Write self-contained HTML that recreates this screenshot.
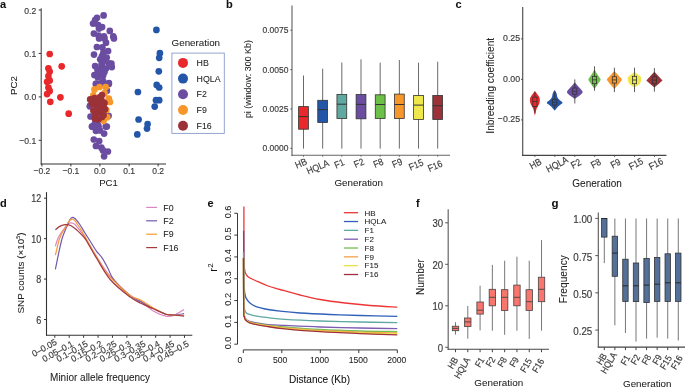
<!DOCTYPE html>
<html><head><meta charset="utf-8"><style>
html,body{margin:0;padding:0;background:#fff;overflow:hidden;}
svg{display:block;will-change:transform;}
text{font-family:"Liberation Sans", sans-serif;}
</style></head><body>
<svg width="685" height="387" viewBox="0 0 685 387">
<rect width="685" height="387" fill="#fff"/>
<text x="0.00" y="7.70" font-size="11" text-anchor="start" fill="#111" stroke="#111" font-weight="bold" stroke-width="0.06">a</text>
<line x1="41.20" y1="8.30" x2="41.20" y2="164.40" stroke="#333" stroke-width="1.0"/>
<line x1="40.70" y1="164.00" x2="166.00" y2="164.00" stroke="#333" stroke-width="1.0"/>
<line x1="38.70" y1="10.00" x2="41.20" y2="10.00" stroke="#333" stroke-width="1.0"/>
<text x="36.20" y="13.60" font-size="8.6" text-anchor="end" fill="#3a3a3a" stroke="#3a3a3a" font-weight="normal" transform="translate(36.20 13.60) scale(1 1.12) translate(-36.20 -13.60)" stroke-width="0.15">0.2</text>
<line x1="38.70" y1="53.40" x2="41.20" y2="53.40" stroke="#333" stroke-width="1.0"/>
<text x="36.20" y="57.00" font-size="8.6" text-anchor="end" fill="#3a3a3a" stroke="#3a3a3a" font-weight="normal" transform="translate(36.20 57.00) scale(1 1.12) translate(-36.20 -57.00)" stroke-width="0.15">0.1</text>
<line x1="38.70" y1="96.90" x2="41.20" y2="96.90" stroke="#333" stroke-width="1.0"/>
<text x="36.20" y="100.50" font-size="8.6" text-anchor="end" fill="#3a3a3a" stroke="#3a3a3a" font-weight="normal" transform="translate(36.20 100.50) scale(1 1.12) translate(-36.20 -100.50)" stroke-width="0.15">0.0</text>
<line x1="38.70" y1="140.30" x2="41.20" y2="140.30" stroke="#333" stroke-width="1.0"/>
<text x="36.20" y="143.90" font-size="8.6" text-anchor="end" fill="#3a3a3a" stroke="#3a3a3a" font-weight="normal" transform="translate(36.20 143.90) scale(1 1.12) translate(-36.20 -143.90)" stroke-width="0.15">&#8722;0.1</text>
<line x1="41.90" y1="163.90" x2="41.90" y2="166.40" stroke="#333" stroke-width="1.0"/>
<text x="41.90" y="174.00" font-size="8.5" text-anchor="middle" fill="#3a3a3a" stroke="#3a3a3a" font-weight="normal" transform="translate(41.90 174.00) scale(1 1.12) translate(-41.90 -174.00)" stroke-width="0.15">&#8722;0.2</text>
<line x1="70.90" y1="163.90" x2="70.90" y2="166.40" stroke="#333" stroke-width="1.0"/>
<text x="70.90" y="174.00" font-size="8.5" text-anchor="middle" fill="#3a3a3a" stroke="#3a3a3a" font-weight="normal" transform="translate(70.90 174.00) scale(1 1.12) translate(-70.90 -174.00)" stroke-width="0.15">&#8722;0.1</text>
<line x1="99.90" y1="163.90" x2="99.90" y2="166.40" stroke="#333" stroke-width="1.0"/>
<text x="99.90" y="174.00" font-size="8.5" text-anchor="middle" fill="#3a3a3a" stroke="#3a3a3a" font-weight="normal" transform="translate(99.90 174.00) scale(1 1.12) translate(-99.90 -174.00)" stroke-width="0.15">0.0</text>
<line x1="129.10" y1="163.90" x2="129.10" y2="166.40" stroke="#333" stroke-width="1.0"/>
<text x="129.10" y="174.00" font-size="8.5" text-anchor="middle" fill="#3a3a3a" stroke="#3a3a3a" font-weight="normal" transform="translate(129.10 174.00) scale(1 1.12) translate(-129.10 -174.00)" stroke-width="0.15">0.1</text>
<line x1="158.10" y1="163.90" x2="158.10" y2="166.40" stroke="#333" stroke-width="1.0"/>
<text x="158.10" y="174.00" font-size="8.5" text-anchor="middle" fill="#3a3a3a" stroke="#3a3a3a" font-weight="normal" transform="translate(158.10 174.00) scale(1 1.12) translate(-158.10 -174.00)" stroke-width="0.15">0.2</text>
<text x="108.50" y="186.40" font-size="9.6" text-anchor="middle" fill="#222" stroke="#222" font-weight="normal" stroke-width="0.06">PC1</text>
<text x="17.20" y="85.50" font-size="9.8" text-anchor="middle" fill="#222" stroke="#222" font-weight="normal" transform="rotate(-90 17.20 85.50)" stroke-width="0.06">PC2</text>
<circle cx="103.60" cy="15.40" r="3.35" fill="#6A4DA0"/>
<circle cx="97.00" cy="17.80" r="3.35" fill="#6A4DA0"/>
<circle cx="95.10" cy="20.10" r="3.35" fill="#6A4DA0"/>
<circle cx="93.10" cy="23.60" r="3.35" fill="#6A4DA0"/>
<circle cx="98.20" cy="25.10" r="3.35" fill="#6A4DA0"/>
<circle cx="102.10" cy="27.10" r="3.35" fill="#6A4DA0"/>
<circle cx="99.00" cy="28.60" r="3.35" fill="#6A4DA0"/>
<circle cx="109.80" cy="30.90" r="3.35" fill="#6A4DA0"/>
<circle cx="93.90" cy="33.60" r="3.35" fill="#6A4DA0"/>
<circle cx="98.60" cy="35.60" r="3.35" fill="#6A4DA0"/>
<circle cx="104.00" cy="36.40" r="3.35" fill="#6A4DA0"/>
<circle cx="113.30" cy="36.40" r="3.35" fill="#6A4DA0"/>
<circle cx="99.10" cy="38.50" r="3.35" fill="#6A4DA0"/>
<circle cx="104.50" cy="38.40" r="3.35" fill="#6A4DA0"/>
<circle cx="113.90" cy="38.40" r="3.35" fill="#6A4DA0"/>
<circle cx="106.00" cy="42.70" r="3.35" fill="#6A4DA0"/>
<circle cx="96.90" cy="47.00" r="3.35" fill="#6A4DA0"/>
<circle cx="102.40" cy="47.40" r="3.35" fill="#6A4DA0"/>
<circle cx="108.10" cy="51.00" r="3.35" fill="#6A4DA0"/>
<circle cx="103.40" cy="52.50" r="3.35" fill="#6A4DA0"/>
<circle cx="94.00" cy="54.60" r="3.35" fill="#6A4DA0"/>
<circle cx="100.20" cy="59.30" r="3.35" fill="#6A4DA0"/>
<circle cx="106.70" cy="57.50" r="3.35" fill="#6A4DA0"/>
<circle cx="111.40" cy="63.70" r="3.35" fill="#6A4DA0"/>
<circle cx="102.40" cy="63.30" r="3.35" fill="#6A4DA0"/>
<circle cx="95.10" cy="66.00" r="3.35" fill="#6A4DA0"/>
<circle cx="101.60" cy="64.20" r="3.35" fill="#6A4DA0"/>
<circle cx="108.90" cy="63.40" r="3.35" fill="#6A4DA0"/>
<circle cx="111.80" cy="67.10" r="3.35" fill="#6A4DA0"/>
<circle cx="106.00" cy="68.50" r="3.35" fill="#6A4DA0"/>
<circle cx="94.40" cy="75.00" r="3.35" fill="#6A4DA0"/>
<circle cx="99.50" cy="72.80" r="3.35" fill="#6A4DA0"/>
<circle cx="104.50" cy="72.10" r="3.35" fill="#6A4DA0"/>
<circle cx="97.70" cy="77.20" r="3.35" fill="#6A4DA0"/>
<circle cx="103.10" cy="75.40" r="3.35" fill="#6A4DA0"/>
<circle cx="96.90" cy="83.70" r="3.35" fill="#6A4DA0"/>
<circle cx="103.10" cy="81.20" r="3.35" fill="#6A4DA0"/>
<circle cx="108.90" cy="83.00" r="3.35" fill="#6A4DA0"/>
<circle cx="100.50" cy="68.50" r="3.35" fill="#6A4DA0"/>
<circle cx="97.50" cy="70.00" r="3.35" fill="#6A4DA0"/>
<circle cx="102.00" cy="56.00" r="3.35" fill="#6A4DA0"/>
<circle cx="104.00" cy="60.00" r="3.35" fill="#6A4DA0"/>
<circle cx="95.80" cy="83.90" r="3.35" fill="#6A4DA0"/>
<circle cx="101.40" cy="83.20" r="3.35" fill="#6A4DA0"/>
<circle cx="108.80" cy="83.90" r="3.35" fill="#6A4DA0"/>
<circle cx="106.90" cy="90.70" r="3.35" fill="#6A4DA0"/>
<circle cx="90.20" cy="105.60" r="3.35" fill="#6A4DA0"/>
<circle cx="89.80" cy="106.30" r="3.35" fill="#6A4DA0"/>
<circle cx="90.50" cy="116.50" r="3.35" fill="#6A4DA0"/>
<circle cx="108.60" cy="115.80" r="3.35" fill="#6A4DA0"/>
<circle cx="92.00" cy="126.60" r="3.35" fill="#6A4DA0"/>
<circle cx="98.50" cy="126.60" r="3.35" fill="#6A4DA0"/>
<circle cx="105.70" cy="126.60" r="3.35" fill="#6A4DA0"/>
<circle cx="94.90" cy="123.70" r="3.35" fill="#6A4DA0"/>
<circle cx="92.10" cy="126.50" r="3.35" fill="#6A4DA0"/>
<circle cx="98.10" cy="125.40" r="3.35" fill="#6A4DA0"/>
<circle cx="106.80" cy="126.50" r="3.35" fill="#6A4DA0"/>
<circle cx="95.90" cy="130.80" r="3.35" fill="#6A4DA0"/>
<circle cx="104.10" cy="133.60" r="3.35" fill="#6A4DA0"/>
<circle cx="93.80" cy="139.50" r="3.35" fill="#6A4DA0"/>
<circle cx="99.20" cy="141.10" r="3.35" fill="#6A4DA0"/>
<circle cx="95.90" cy="146.00" r="3.35" fill="#6A4DA0"/>
<circle cx="101.40" cy="147.70" r="3.35" fill="#6A4DA0"/>
<circle cx="107.90" cy="151.50" r="3.35" fill="#6A4DA0"/>
<circle cx="104.10" cy="156.30" r="3.35" fill="#6A4DA0"/>
<circle cx="103.00" cy="150.40" r="3.35" fill="#6A4DA0"/>
<circle cx="100.00" cy="130.50" r="3.35" fill="#6A4DA0"/>
<circle cx="49.70" cy="54.00" r="3.35" fill="#E8282B"/>
<circle cx="61.70" cy="66.30" r="3.35" fill="#E8282B"/>
<circle cx="48.40" cy="68.30" r="3.35" fill="#E8282B"/>
<circle cx="49.70" cy="71.50" r="3.35" fill="#E8282B"/>
<circle cx="48.40" cy="76.00" r="3.35" fill="#E8282B"/>
<circle cx="47.10" cy="81.80" r="3.35" fill="#E8282B"/>
<circle cx="49.70" cy="80.50" r="3.35" fill="#E8282B"/>
<circle cx="48.40" cy="87.60" r="3.35" fill="#E8282B"/>
<circle cx="49.70" cy="90.90" r="3.35" fill="#E8282B"/>
<circle cx="47.10" cy="94.10" r="3.35" fill="#E8282B"/>
<circle cx="60.40" cy="97.30" r="3.35" fill="#E8282B"/>
<circle cx="50.30" cy="101.80" r="3.35" fill="#E8282B"/>
<circle cx="68.70" cy="113.70" r="3.35" fill="#E8282B"/>
<circle cx="156.40" cy="29.90" r="3.35" fill="#2356A8"/>
<circle cx="159.90" cy="53.20" r="3.35" fill="#2356A8"/>
<circle cx="159.20" cy="57.80" r="3.35" fill="#2356A8"/>
<circle cx="158.80" cy="71.30" r="3.35" fill="#2356A8"/>
<circle cx="156.70" cy="84.90" r="3.35" fill="#2356A8"/>
<circle cx="159.20" cy="87.50" r="3.35" fill="#2356A8"/>
<circle cx="137.90" cy="92.00" r="3.35" fill="#2356A8"/>
<circle cx="156.00" cy="100.20" r="3.35" fill="#2356A8"/>
<circle cx="159.20" cy="100.20" r="3.35" fill="#2356A8"/>
<circle cx="154.70" cy="106.60" r="3.35" fill="#2356A8"/>
<circle cx="138.60" cy="119.50" r="3.35" fill="#2356A8"/>
<circle cx="147.60" cy="124.10" r="3.35" fill="#2356A8"/>
<circle cx="147.00" cy="128.60" r="3.35" fill="#2356A8"/>
<circle cx="137.30" cy="134.40" r="3.35" fill="#2356A8"/>
<circle cx="94.50" cy="89.40" r="3.35" fill="#F7962A"/>
<circle cx="99.50" cy="87.00" r="3.35" fill="#F7962A"/>
<circle cx="105.70" cy="87.00" r="3.35" fill="#F7962A"/>
<circle cx="93.30" cy="95.30" r="3.35" fill="#F7962A"/>
<circle cx="104.50" cy="93.20" r="3.35" fill="#F7962A"/>
<circle cx="108.80" cy="98.70" r="3.35" fill="#F7962A"/>
<circle cx="106.30" cy="101.80" r="3.35" fill="#F7962A"/>
<circle cx="110.00" cy="102.00" r="3.35" fill="#F7962A"/>
<circle cx="106.40" cy="110.00" r="3.35" fill="#F7962A"/>
<circle cx="107.20" cy="117.20" r="3.35" fill="#F7962A"/>
<circle cx="103.60" cy="120.80" r="3.35" fill="#F7962A"/>
<circle cx="99.00" cy="112.00" r="3.35" fill="#9B3238"/>
<circle cx="101.00" cy="106.00" r="3.35" fill="#9B3238"/>
<circle cx="96.00" cy="112.00" r="3.35" fill="#9B3238"/>
<circle cx="92.00" cy="104.00" r="3.35" fill="#9B3238"/>
<circle cx="100.00" cy="97.00" r="3.35" fill="#9B3238"/>
<circle cx="98.00" cy="100.00" r="3.35" fill="#9B3238"/>
<circle cx="102.00" cy="117.00" r="3.35" fill="#9B3238"/>
<circle cx="102.00" cy="95.00" r="3.35" fill="#9B3238"/>
<circle cx="90.20" cy="99.40" r="3.35" fill="#9B3238"/>
<circle cx="94.50" cy="98.10" r="3.35" fill="#9B3238"/>
<circle cx="101.40" cy="100.00" r="3.35" fill="#9B3238"/>
<circle cx="104.50" cy="103.10" r="3.35" fill="#9B3238"/>
<circle cx="96.40" cy="102.50" r="3.35" fill="#9B3238"/>
<circle cx="97.00" cy="105.60" r="3.35" fill="#9B3238"/>
<circle cx="103.60" cy="104.20" r="3.35" fill="#9B3238"/>
<circle cx="105.00" cy="109.20" r="3.35" fill="#9B3238"/>
<circle cx="93.40" cy="110.70" r="3.35" fill="#9B3238"/>
<circle cx="95.60" cy="115.00" r="3.35" fill="#9B3238"/>
<circle cx="103.60" cy="115.00" r="3.35" fill="#9B3238"/>
<circle cx="98.50" cy="119.40" r="3.35" fill="#9B3238"/>
<circle cx="94.90" cy="118.70" r="3.35" fill="#9B3238"/>
<circle cx="100.00" cy="110.00" r="3.35" fill="#9B3238"/>
<circle cx="97.00" cy="108.00" r="3.35" fill="#9B3238"/>
<text x="171.60" y="46.20" font-size="9.8" text-anchor="start" fill="#222" stroke="#222" font-weight="normal" stroke-width="0.06">Generation</text>
<rect x="171.9" y="53.1" width="52.4" height="80.3" fill="none" stroke="#8A9ACB" stroke-width="0.9"/>
<circle cx="183.00" cy="62.90" r="5.0" fill="#E8282B"/>
<text x="196.60" y="66.00" font-size="8.8" text-anchor="start" fill="#222" stroke="#222" font-weight="normal" stroke-width="0.06">HB</text>
<circle cx="183.00" cy="78.60" r="5.0" fill="#2356A8"/>
<text x="196.60" y="81.70" font-size="8.8" text-anchor="start" fill="#222" stroke="#222" font-weight="normal" stroke-width="0.06">HQLA</text>
<circle cx="183.00" cy="94.30" r="5.0" fill="#6A4DA0"/>
<text x="196.60" y="97.40" font-size="8.8" text-anchor="start" fill="#222" stroke="#222" font-weight="normal" stroke-width="0.06">F2</text>
<circle cx="183.00" cy="110.00" r="5.0" fill="#F7962A"/>
<text x="196.60" y="113.10" font-size="8.8" text-anchor="start" fill="#222" stroke="#222" font-weight="normal" stroke-width="0.06">F9</text>
<circle cx="183.00" cy="125.70" r="5.0" fill="#9B3238"/>
<text x="196.60" y="128.80" font-size="8.8" text-anchor="start" fill="#222" stroke="#222" font-weight="normal" stroke-width="0.06">F16</text>
<text x="226.00" y="8.30" font-size="11" text-anchor="start" fill="#111" stroke="#111" font-weight="bold" stroke-width="0.06">b</text>
<line x1="292.00" y1="5.50" x2="292.00" y2="155.90" stroke="#777" stroke-width="1.3"/>
<line x1="291.40" y1="155.25" x2="450.00" y2="155.25" stroke="#666" stroke-width="1.2"/>
<line x1="290.40" y1="148.35" x2="292.00" y2="148.35" stroke="#555" stroke-width="1.0"/>
<text x="288.40" y="151.45" font-size="8.5" text-anchor="end" fill="#3a3a3a" stroke="#3a3a3a" font-weight="normal" transform="translate(288.40 151.45) scale(1 1.12) translate(-288.40 -151.45)" stroke-width="0.15">0.0000</text>
<line x1="290.40" y1="108.97" x2="292.00" y2="108.97" stroke="#555" stroke-width="1.0"/>
<text x="288.40" y="112.07" font-size="8.5" text-anchor="end" fill="#3a3a3a" stroke="#3a3a3a" font-weight="normal" transform="translate(288.40 112.07) scale(1 1.12) translate(-288.40 -112.07)" stroke-width="0.15">0.0025</text>
<line x1="290.40" y1="69.60" x2="292.00" y2="69.60" stroke="#555" stroke-width="1.0"/>
<text x="288.40" y="72.70" font-size="8.5" text-anchor="end" fill="#3a3a3a" stroke="#3a3a3a" font-weight="normal" transform="translate(288.40 72.70) scale(1 1.12) translate(-288.40 -72.70)" stroke-width="0.15">0.0050</text>
<line x1="290.40" y1="30.20" x2="292.00" y2="30.20" stroke="#555" stroke-width="1.0"/>
<text x="288.40" y="33.30" font-size="8.5" text-anchor="end" fill="#3a3a3a" stroke="#3a3a3a" font-weight="normal" transform="translate(288.40 33.30) scale(1 1.12) translate(-288.40 -33.30)" stroke-width="0.15">0.0075</text>
<text x="251.50" y="79.10" font-size="8.9" text-anchor="middle" fill="#222" stroke="#222" font-weight="normal" transform="rotate(-90 251.50 79.10)" stroke-width="0.06">pi (window: 300 Kb)</text>
<text x="358.70" y="186.40" font-size="9.8" text-anchor="middle" fill="#222" stroke="#222" font-weight="normal" stroke-width="0.06">Generation</text>
<line x1="303.50" y1="75.50" x2="303.50" y2="148.60" stroke="#444" stroke-width="0.8"/>
<rect x="298.60" y="106.60" width="9.8" height="22.60" fill="#E8282B" stroke="#333" stroke-width="0.8"/>
<line x1="298.60" y1="116.60" x2="308.40" y2="116.60" stroke="#333" stroke-width="1.0"/>
<line x1="303.50" y1="155.30" x2="303.50" y2="156.60" stroke="#555" stroke-width="1.0"/>
<text x="301.00" y="163.40" font-size="8.6" text-anchor="middle" fill="#3a3a3a" stroke="#3a3a3a" font-weight="normal" transform="rotate(-23 301.00 163.40) translate(301.00 163.40) scale(1 1.12) translate(-301.00 -163.40)" dominant-baseline="central" stroke-width="0.15">HB</text>
<line x1="322.67" y1="68.70" x2="322.67" y2="148.60" stroke="#444" stroke-width="0.8"/>
<rect x="317.77" y="100.30" width="9.8" height="22.20" fill="#2356A8" stroke="#333" stroke-width="0.8"/>
<line x1="317.77" y1="109.60" x2="327.57" y2="109.60" stroke="#333" stroke-width="1.0"/>
<line x1="322.67" y1="155.30" x2="322.67" y2="156.60" stroke="#555" stroke-width="1.0"/>
<text x="317.77" y="167.10" font-size="8.6" text-anchor="middle" fill="#3a3a3a" stroke="#3a3a3a" font-weight="normal" transform="rotate(-23 317.77 167.10) translate(317.77 167.10) scale(1 1.12) translate(-317.77 -167.10)" dominant-baseline="central" stroke-width="0.15">HQLA</text>
<line x1="341.84" y1="62.50" x2="341.84" y2="148.60" stroke="#444" stroke-width="0.8"/>
<rect x="336.94" y="94.50" width="9.8" height="24.00" fill="#5FA9A1" stroke="#333" stroke-width="0.8"/>
<line x1="336.94" y1="104.20" x2="346.74" y2="104.20" stroke="#333" stroke-width="1.0"/>
<line x1="341.84" y1="155.30" x2="341.84" y2="156.60" stroke="#555" stroke-width="1.0"/>
<text x="339.34" y="163.80" font-size="8.6" text-anchor="middle" fill="#3a3a3a" stroke="#3a3a3a" font-weight="normal" transform="rotate(-23 339.34 163.80) translate(339.34 163.80) scale(1 1.12) translate(-339.34 -163.80)" dominant-baseline="central" stroke-width="0.15">F1</text>
<line x1="361.01" y1="59.30" x2="361.01" y2="148.60" stroke="#444" stroke-width="0.8"/>
<rect x="356.11" y="94.50" width="9.8" height="24.30" fill="#6A4DA0" stroke="#333" stroke-width="0.8"/>
<line x1="356.11" y1="104.40" x2="365.91" y2="104.40" stroke="#333" stroke-width="1.0"/>
<line x1="361.01" y1="155.30" x2="361.01" y2="156.60" stroke="#555" stroke-width="1.0"/>
<text x="359.01" y="163.20" font-size="8.6" text-anchor="middle" fill="#3a3a3a" stroke="#3a3a3a" font-weight="normal" transform="rotate(-23 359.01 163.20) translate(359.01 163.20) scale(1 1.12) translate(-359.01 -163.20)" dominant-baseline="central" stroke-width="0.15">F2</text>
<line x1="380.18" y1="62.70" x2="380.18" y2="148.60" stroke="#444" stroke-width="0.8"/>
<rect x="375.28" y="94.80" width="9.8" height="23.70" fill="#6CBF47" stroke="#333" stroke-width="0.8"/>
<line x1="375.28" y1="104.50" x2="385.08" y2="104.50" stroke="#333" stroke-width="1.0"/>
<line x1="380.18" y1="155.30" x2="380.18" y2="156.60" stroke="#555" stroke-width="1.0"/>
<text x="378.28" y="163.20" font-size="8.6" text-anchor="middle" fill="#3a3a3a" stroke="#3a3a3a" font-weight="normal" transform="rotate(-23 378.28 163.20) translate(378.28 163.20) scale(1 1.12) translate(-378.28 -163.20)" dominant-baseline="central" stroke-width="0.15">F8</text>
<line x1="399.35" y1="60.00" x2="399.35" y2="148.60" stroke="#444" stroke-width="0.8"/>
<rect x="394.45" y="94.10" width="9.8" height="24.40" fill="#F7962A" stroke="#333" stroke-width="0.8"/>
<line x1="394.45" y1="104.50" x2="404.25" y2="104.50" stroke="#333" stroke-width="1.0"/>
<line x1="399.35" y1="155.30" x2="399.35" y2="156.60" stroke="#555" stroke-width="1.0"/>
<text x="397.25" y="163.20" font-size="8.6" text-anchor="middle" fill="#3a3a3a" stroke="#3a3a3a" font-weight="normal" transform="rotate(-23 397.25 163.20) translate(397.25 163.20) scale(1 1.12) translate(-397.25 -163.20)" dominant-baseline="central" stroke-width="0.15">F9</text>
<line x1="418.52" y1="62.70" x2="418.52" y2="148.60" stroke="#444" stroke-width="0.8"/>
<rect x="413.62" y="95.40" width="9.8" height="24.10" fill="#EFE84C" stroke="#333" stroke-width="0.8"/>
<line x1="413.62" y1="105.10" x2="423.42" y2="105.10" stroke="#333" stroke-width="1.0"/>
<line x1="418.52" y1="155.30" x2="418.52" y2="156.60" stroke="#555" stroke-width="1.0"/>
<text x="416.02" y="164.90" font-size="8.6" text-anchor="middle" fill="#3a3a3a" stroke="#3a3a3a" font-weight="normal" transform="rotate(-23 416.02 164.90) translate(416.02 164.90) scale(1 1.12) translate(-416.02 -164.90)" dominant-baseline="central" stroke-width="0.15">F15</text>
<line x1="437.69" y1="61.70" x2="437.69" y2="148.60" stroke="#444" stroke-width="0.8"/>
<rect x="432.79" y="95.40" width="9.8" height="24.10" fill="#9B3238" stroke="#333" stroke-width="0.8"/>
<line x1="432.79" y1="105.70" x2="442.59" y2="105.70" stroke="#333" stroke-width="1.0"/>
<line x1="437.69" y1="155.30" x2="437.69" y2="156.60" stroke="#555" stroke-width="1.0"/>
<text x="434.99" y="166.20" font-size="8.6" text-anchor="middle" fill="#3a3a3a" stroke="#3a3a3a" font-weight="normal" transform="rotate(-23 434.99 166.20) translate(434.99 166.20) scale(1 1.12) translate(-434.99 -166.20)" dominant-baseline="central" stroke-width="0.15">F16</text>
<text x="455.50" y="8.30" font-size="11" text-anchor="start" fill="#111" stroke="#111" font-weight="bold" stroke-width="0.06">c</text>
<line x1="522.70" y1="7.00" x2="522.70" y2="156.00" stroke="#555" stroke-width="1.2"/>
<line x1="522.10" y1="155.40" x2="666.40" y2="155.40" stroke="#444" stroke-width="1.1"/>
<line x1="521.10" y1="38.90" x2="522.70" y2="38.90" stroke="#444" stroke-width="1.0"/>
<text x="520.10" y="41.50" font-size="8.8" text-anchor="end" fill="#3a3a3a" stroke="#3a3a3a" font-weight="normal" transform="translate(520.10 41.50) scale(1 1.12) translate(-520.10 -41.50)" stroke-width="0.15">0.25</text>
<line x1="521.10" y1="79.40" x2="522.70" y2="79.40" stroke="#444" stroke-width="1.0"/>
<text x="520.10" y="82.00" font-size="8.8" text-anchor="end" fill="#3a3a3a" stroke="#3a3a3a" font-weight="normal" transform="translate(520.10 82.00) scale(1 1.12) translate(-520.10 -82.00)" stroke-width="0.15">0.00</text>
<line x1="521.10" y1="119.90" x2="522.70" y2="119.90" stroke="#444" stroke-width="1.0"/>
<text x="520.10" y="122.50" font-size="8.8" text-anchor="end" fill="#3a3a3a" stroke="#3a3a3a" font-weight="normal" transform="translate(520.10 122.50) scale(1 1.12) translate(-520.10 -122.50)" stroke-width="0.15">&#8722;0.25</text>
<text x="494.30" y="85.75" font-size="10.1" text-anchor="middle" fill="#222" stroke="#222" font-weight="normal" transform="rotate(-90 494.30 85.75)" stroke-width="0.06">Inbreeding coefficient</text>
<text x="597.10" y="187.00" font-size="10" text-anchor="middle" fill="#222" stroke="#222" font-weight="normal" stroke-width="0.06">Generation</text>
<path d="M534.90,91.30 C535.15,91.58 535.90,92.38 536.40,93.00 C536.90,93.62 537.43,94.33 537.90,95.00 C538.37,95.67 538.88,96.33 539.20,97.00 C539.52,97.67 539.72,98.17 539.80,99.00 C539.88,99.83 539.85,101.08 539.70,102.00 C539.55,102.92 539.28,103.67 538.90,104.50 C538.52,105.33 537.85,106.08 537.40,107.00 C536.95,107.92 536.52,109.00 536.20,110.00 C535.88,111.00 535.72,112.05 535.50,113.00 C535.28,113.95 535.00,115.25 534.90,115.70 L534.90,115.70 C534.80,115.25 534.52,113.95 534.30,113.00 C534.08,112.05 533.92,111.00 533.60,110.00 C533.28,109.00 532.85,107.92 532.40,107.00 C531.95,106.08 531.28,105.33 530.90,104.50 C530.52,103.67 530.25,102.92 530.10,102.00 C529.95,101.08 529.92,99.83 530.00,99.00 C530.08,98.17 530.28,97.67 530.60,97.00 C530.92,96.33 531.43,95.67 531.90,95.00 C532.37,94.33 532.90,93.62 533.40,93.00 C533.90,92.38 534.65,91.58 534.90,91.30Z" fill="#E8282B"/>
<line x1="534.90" y1="91.50" x2="534.90" y2="97.10" stroke="#333" stroke-width="0.8"/>
<line x1="534.90" y1="106.60" x2="534.90" y2="113.50" stroke="#333" stroke-width="0.8"/>
<rect x="532.80" y="97.10" width="4.2" height="9.50" fill="none" stroke="#333" stroke-width="0.8"/>
<line x1="532.80" y1="101.50" x2="537.00" y2="101.50" stroke="#333" stroke-width="0.8"/>
<line x1="534.90" y1="155.40" x2="534.90" y2="156.80" stroke="#444" stroke-width="1.0"/>
<text x="535.60" y="163.80" font-size="8.6" text-anchor="middle" fill="#3a3a3a" stroke="#3a3a3a" font-weight="normal" transform="rotate(-28 535.60 163.80) translate(535.60 163.80) scale(1 1.12) translate(-535.60 -163.80)" dominant-baseline="central" stroke-width="0.15">HB</text>
<path d="M554.65,89.90 C554.87,90.25 555.58,91.23 555.95,92.00 C556.32,92.77 556.65,93.75 556.85,94.50 C557.05,95.25 556.93,95.83 557.15,96.50 C557.37,97.17 557.65,97.83 558.15,98.50 C558.65,99.17 559.42,99.80 560.15,100.50 C560.88,101.20 562.47,102.03 562.55,102.70 C562.63,103.37 561.38,103.87 560.65,104.50 C559.92,105.13 558.85,105.83 558.15,106.50 C557.45,107.17 557.03,107.83 556.45,108.50 C555.87,109.17 554.95,110.17 554.65,110.50 L554.65,110.50 C554.35,110.17 553.43,109.17 552.85,108.50 C552.27,107.83 551.85,107.17 551.15,106.50 C550.45,105.83 549.38,105.13 548.65,104.50 C547.92,103.87 546.67,103.37 546.75,102.70 C546.83,102.03 548.42,101.20 549.15,100.50 C549.88,99.80 550.65,99.17 551.15,98.50 C551.65,97.83 551.93,97.17 552.15,96.50 C552.37,95.83 552.25,95.25 552.45,94.50 C552.65,93.75 552.98,92.77 553.35,92.00 C553.72,91.23 554.43,90.25 554.65,89.90Z" fill="#2356A8"/>
<line x1="554.65" y1="91.50" x2="554.65" y2="99.40" stroke="#333" stroke-width="0.8"/>
<line x1="554.65" y1="105.00" x2="554.65" y2="108.50" stroke="#333" stroke-width="0.8"/>
<rect x="552.55" y="99.40" width="4.2" height="5.60" fill="none" stroke="#333" stroke-width="0.8"/>
<line x1="552.55" y1="102.30" x2="556.75" y2="102.30" stroke="#333" stroke-width="0.8"/>
<line x1="554.83" y1="155.40" x2="554.83" y2="156.80" stroke="#444" stroke-width="1.0"/>
<text x="557.13" y="164.50" font-size="8.6" text-anchor="middle" fill="#3a3a3a" stroke="#3a3a3a" font-weight="normal" transform="rotate(-28 557.13 164.50) translate(557.13 164.50) scale(1 1.12) translate(-557.13 -164.50)" dominant-baseline="central" stroke-width="0.15">HQLA</text>
<path d="M574.80,82.60 C575.10,82.92 575.93,83.77 576.60,84.50 C577.27,85.23 578.05,86.17 578.80,87.00 C579.55,87.83 580.46,88.63 581.10,89.50 C581.74,90.37 582.70,91.37 582.65,92.20 C582.60,93.03 581.52,93.78 580.80,94.50 C580.07,95.22 579.30,95.78 578.30,96.50 C577.30,97.22 575.38,98.42 574.80,98.80 L574.80,98.80 C574.22,98.42 572.30,97.22 571.30,96.50 C570.30,95.78 569.52,95.22 568.80,94.50 C568.07,93.78 567.00,93.03 566.95,92.20 C566.90,91.37 567.86,90.37 568.50,89.50 C569.14,88.63 570.05,87.83 570.80,87.00 C571.55,86.17 572.33,85.23 573.00,84.50 C573.67,83.77 574.50,82.92 574.80,82.60Z" fill="#6A4DA0"/>
<line x1="574.80" y1="79.40" x2="574.80" y2="88.00" stroke="#333" stroke-width="0.8"/>
<line x1="574.80" y1="94.20" x2="574.80" y2="103.50" stroke="#333" stroke-width="0.8"/>
<rect x="572.70" y="88.00" width="4.2" height="6.20" fill="none" stroke="#333" stroke-width="0.8"/>
<line x1="572.70" y1="91.30" x2="576.90" y2="91.30" stroke="#333" stroke-width="0.8"/>
<line x1="574.76" y1="155.40" x2="574.76" y2="156.80" stroke="#444" stroke-width="1.0"/>
<text x="575.96" y="163.80" font-size="8.6" text-anchor="middle" fill="#3a3a3a" stroke="#3a3a3a" font-weight="normal" transform="rotate(-28 575.96 163.80) translate(575.96 163.80) scale(1 1.12) translate(-575.96 -163.80)" dominant-baseline="central" stroke-width="0.15">F2</text>
<path d="M594.50,69.00 C594.67,69.33 595.12,70.23 595.50,71.00 C595.88,71.77 596.22,72.65 596.80,73.60 C597.38,74.55 598.37,75.72 599.00,76.70 C599.63,77.68 600.60,78.52 600.60,79.50 C600.60,80.48 599.68,81.48 599.00,82.60 C598.32,83.72 597.25,85.13 596.50,86.20 C595.75,87.27 594.83,88.53 594.50,89.00 L594.50,89.00 C594.17,88.53 593.25,87.27 592.50,86.20 C591.75,85.13 590.68,83.72 590.00,82.60 C589.32,81.48 588.40,80.48 588.40,79.50 C588.40,78.52 589.37,77.68 590.00,76.70 C590.63,75.72 591.62,74.55 592.20,73.60 C592.78,72.65 593.12,71.77 593.50,71.00 C593.88,70.23 594.33,69.33 594.50,69.00Z" fill="#6CBF47"/>
<line x1="594.50" y1="66.30" x2="594.50" y2="76.30" stroke="#333" stroke-width="0.8"/>
<line x1="594.50" y1="83.70" x2="594.50" y2="90.80" stroke="#333" stroke-width="0.8"/>
<rect x="592.40" y="76.30" width="4.2" height="7.40" fill="none" stroke="#333" stroke-width="0.8"/>
<line x1="592.40" y1="79.80" x2="596.60" y2="79.80" stroke="#333" stroke-width="0.8"/>
<line x1="594.69" y1="155.40" x2="594.69" y2="156.80" stroke="#444" stroke-width="1.0"/>
<text x="595.89" y="163.60" font-size="8.6" text-anchor="middle" fill="#3a3a3a" stroke="#3a3a3a" font-weight="normal" transform="rotate(-28 595.89 163.60) translate(595.89 163.60) scale(1 1.12) translate(-595.89 -163.60)" dominant-baseline="central" stroke-width="0.15">F8</text>
<path d="M614.40,70.90 C614.65,71.17 615.37,71.90 615.90,72.50 C616.43,73.10 616.93,73.75 617.60,74.50 C618.27,75.25 619.19,76.17 619.90,77.00 C620.61,77.83 621.77,78.67 621.85,79.50 C621.93,80.33 621.06,81.08 620.40,82.00 C619.74,82.92 618.90,83.83 617.90,85.00 C616.90,86.17 614.98,88.33 614.40,89.00 L614.40,89.00 C613.82,88.33 611.90,86.17 610.90,85.00 C609.90,83.83 609.06,82.92 608.40,82.00 C607.74,81.08 606.87,80.33 606.95,79.50 C607.03,78.67 608.19,77.83 608.90,77.00 C609.61,76.17 610.53,75.25 611.20,74.50 C611.87,73.75 612.37,73.10 612.90,72.50 C613.43,71.90 614.15,71.17 614.40,70.90Z" fill="#F7962A"/>
<line x1="614.40" y1="67.70" x2="614.40" y2="76.70" stroke="#333" stroke-width="0.8"/>
<line x1="614.40" y1="83.10" x2="614.40" y2="92.10" stroke="#333" stroke-width="0.8"/>
<rect x="612.30" y="76.70" width="4.2" height="6.40" fill="none" stroke="#333" stroke-width="0.8"/>
<line x1="612.30" y1="79.90" x2="616.50" y2="79.90" stroke="#333" stroke-width="0.8"/>
<line x1="614.62" y1="155.40" x2="614.62" y2="156.80" stroke="#444" stroke-width="1.0"/>
<text x="615.62" y="163.60" font-size="8.6" text-anchor="middle" fill="#3a3a3a" stroke="#3a3a3a" font-weight="normal" transform="rotate(-28 615.62 163.60) translate(615.62 163.60) scale(1 1.12) translate(-615.62 -163.60)" dominant-baseline="central" stroke-width="0.15">F9</text>
<path d="M634.50,71.80 C634.75,72.00 635.42,72.55 636.00,73.00 C636.58,73.45 637.20,73.83 638.00,74.50 C638.80,75.17 640.25,76.17 640.80,77.00 C641.35,77.83 641.35,78.58 641.30,79.50 C641.25,80.42 641.05,81.53 640.50,82.50 C639.95,83.47 639.00,84.45 638.00,85.30 C637.00,86.15 635.08,87.22 634.50,87.60 L634.50,87.60 C633.92,87.22 632.00,86.15 631.00,85.30 C630.00,84.45 629.05,83.47 628.50,82.50 C627.95,81.53 627.75,80.42 627.70,79.50 C627.65,78.58 627.65,77.83 628.20,77.00 C628.75,76.17 630.20,75.17 631.00,74.50 C631.80,73.83 632.42,73.45 633.00,73.00 C633.58,72.55 634.25,72.00 634.50,71.80Z" fill="#EFE84C"/>
<line x1="634.50" y1="67.70" x2="634.50" y2="76.30" stroke="#333" stroke-width="0.8"/>
<line x1="634.50" y1="83.70" x2="634.50" y2="92.10" stroke="#333" stroke-width="0.8"/>
<rect x="632.40" y="76.30" width="4.2" height="7.40" fill="none" stroke="#333" stroke-width="0.8"/>
<line x1="632.40" y1="80.00" x2="636.60" y2="80.00" stroke="#333" stroke-width="0.8"/>
<line x1="634.55" y1="155.40" x2="634.55" y2="156.80" stroke="#444" stroke-width="1.0"/>
<text x="635.95" y="164.00" font-size="8.6" text-anchor="middle" fill="#3a3a3a" stroke="#3a3a3a" font-weight="normal" transform="rotate(-28 635.95 164.00) translate(635.95 164.00) scale(1 1.12) translate(-635.95 -164.00)" dominant-baseline="central" stroke-width="0.15">F15</text>
<path d="M654.40,71.80 L658.40,76.00 L662.50,80.40 L658.60,84.00 L654.40,87.60 L650.20,84.00 L646.30,80.40 L650.40,76.00 L654.40,71.80Z" fill="#9B3238"/>
<line x1="654.40" y1="68.10" x2="654.40" y2="76.70" stroke="#333" stroke-width="0.8"/>
<line x1="654.40" y1="83.70" x2="654.40" y2="91.70" stroke="#333" stroke-width="0.8"/>
<rect x="652.30" y="76.70" width="4.2" height="7.00" fill="none" stroke="#333" stroke-width="0.8"/>
<line x1="652.30" y1="80.20" x2="656.50" y2="80.20" stroke="#333" stroke-width="0.8"/>
<line x1="654.48" y1="155.40" x2="654.48" y2="156.80" stroke="#444" stroke-width="1.0"/>
<text x="655.98" y="164.00" font-size="8.6" text-anchor="middle" fill="#3a3a3a" stroke="#3a3a3a" font-weight="normal" transform="rotate(-28 655.98 164.00) translate(655.98 164.00) scale(1 1.12) translate(-655.98 -164.00)" dominant-baseline="central" stroke-width="0.15">F16</text>
<text x="0.00" y="206.60" font-size="11" text-anchor="start" fill="#111" stroke="#111" font-weight="bold" stroke-width="0.06">d</text>
<line x1="46.50" y1="192.10" x2="46.50" y2="335.70" stroke="#333" stroke-width="1.1"/>
<line x1="46.00" y1="335.20" x2="192.30" y2="335.20" stroke="#333" stroke-width="1.1"/>
<line x1="44.00" y1="198.20" x2="46.50" y2="198.20" stroke="#333" stroke-width="1.0"/>
<text x="41.30" y="202.30" font-size="9" text-anchor="end" fill="#3a3a3a" stroke="#3a3a3a" font-weight="normal" transform="translate(41.30 202.30) scale(1 1.12) translate(-41.30 -202.30)" stroke-width="0.15">12</text>
<line x1="44.00" y1="238.64" x2="46.50" y2="238.64" stroke="#333" stroke-width="1.0"/>
<text x="41.30" y="242.74" font-size="9" text-anchor="end" fill="#3a3a3a" stroke="#3a3a3a" font-weight="normal" transform="translate(41.30 242.74) scale(1 1.12) translate(-41.30 -242.74)" stroke-width="0.15">10</text>
<line x1="44.00" y1="279.08" x2="46.50" y2="279.08" stroke="#333" stroke-width="1.0"/>
<text x="41.30" y="283.18" font-size="9" text-anchor="end" fill="#3a3a3a" stroke="#3a3a3a" font-weight="normal" transform="translate(41.30 283.18) scale(1 1.12) translate(-41.30 -283.18)" stroke-width="0.15">8</text>
<line x1="44.00" y1="319.52" x2="46.50" y2="319.52" stroke="#333" stroke-width="1.0"/>
<text x="41.30" y="323.62" font-size="9" text-anchor="end" fill="#3a3a3a" stroke="#3a3a3a" font-weight="normal" transform="translate(41.30 323.62) scale(1 1.12) translate(-41.30 -323.62)" stroke-width="0.15">6</text>
<text x="23.80" y="273.00" font-size="9.9" text-anchor="middle" fill="#222" stroke="#222" font-weight="normal" transform="rotate(-90 23.80 273.00)" stroke-width="0.06">SNP counts (&#215;10<tspan font-size="5.5" dy="-3.5">5</tspan><tspan dy="3.5">)</tspan></text>
<text x="100.10" y="381.40" font-size="10" text-anchor="middle" fill="#222" stroke="#222" font-weight="normal" stroke-width="0.06">Minior allele frequency</text>
<line x1="54.80" y1="335.30" x2="54.80" y2="337.80" stroke="#333" stroke-width="1.0"/>
<text x="44.30" y="347.80" font-size="8.8" text-anchor="middle" fill="#3a3a3a" stroke="#3a3a3a" font-weight="normal" transform="rotate(-29 44.30 347.80)" dominant-baseline="central" stroke-width="0.15">0&#8211;0.05</text>
<line x1="69.21" y1="335.30" x2="69.21" y2="337.80" stroke="#333" stroke-width="1.0"/>
<text x="57.71" y="351.30" font-size="8.8" text-anchor="middle" fill="#3a3a3a" stroke="#3a3a3a" font-weight="normal" transform="rotate(-29 57.71 351.30)" dominant-baseline="central" stroke-width="0.15">0.05&#8211;0.1</text>
<line x1="83.62" y1="335.30" x2="83.62" y2="337.80" stroke="#333" stroke-width="1.0"/>
<text x="72.12" y="351.30" font-size="8.8" text-anchor="middle" fill="#3a3a3a" stroke="#3a3a3a" font-weight="normal" transform="rotate(-29 72.12 351.30)" dominant-baseline="central" stroke-width="0.15">0.1&#8211;0.15</text>
<line x1="98.03" y1="335.30" x2="98.03" y2="337.80" stroke="#333" stroke-width="1.0"/>
<text x="86.53" y="351.30" font-size="8.8" text-anchor="middle" fill="#3a3a3a" stroke="#3a3a3a" font-weight="normal" transform="rotate(-29 86.53 351.30)" dominant-baseline="central" stroke-width="0.15">0.15&#8211;0.2</text>
<line x1="112.44" y1="335.30" x2="112.44" y2="337.80" stroke="#333" stroke-width="1.0"/>
<text x="100.94" y="351.30" font-size="8.8" text-anchor="middle" fill="#3a3a3a" stroke="#3a3a3a" font-weight="normal" transform="rotate(-29 100.94 351.30)" dominant-baseline="central" stroke-width="0.15">0.2&#8211;0.25</text>
<line x1="126.85" y1="335.30" x2="126.85" y2="337.80" stroke="#333" stroke-width="1.0"/>
<text x="115.35" y="351.30" font-size="8.8" text-anchor="middle" fill="#3a3a3a" stroke="#3a3a3a" font-weight="normal" transform="rotate(-29 115.35 351.30)" dominant-baseline="central" stroke-width="0.15">0.25&#8211;0.3</text>
<line x1="141.26" y1="335.30" x2="141.26" y2="337.80" stroke="#333" stroke-width="1.0"/>
<text x="129.76" y="351.30" font-size="8.8" text-anchor="middle" fill="#3a3a3a" stroke="#3a3a3a" font-weight="normal" transform="rotate(-29 129.76 351.30)" dominant-baseline="central" stroke-width="0.15">0.3&#8211;0.35</text>
<line x1="155.67" y1="335.30" x2="155.67" y2="337.80" stroke="#333" stroke-width="1.0"/>
<text x="144.17" y="351.30" font-size="8.8" text-anchor="middle" fill="#3a3a3a" stroke="#3a3a3a" font-weight="normal" transform="rotate(-29 144.17 351.30)" dominant-baseline="central" stroke-width="0.15">0.35&#8211;0.4</text>
<line x1="170.08" y1="335.30" x2="170.08" y2="337.80" stroke="#333" stroke-width="1.0"/>
<text x="158.58" y="351.30" font-size="8.8" text-anchor="middle" fill="#3a3a3a" stroke="#3a3a3a" font-weight="normal" transform="rotate(-29 158.58 351.30)" dominant-baseline="central" stroke-width="0.15">0.4&#8211;0.45</text>
<line x1="184.49" y1="335.30" x2="184.49" y2="337.80" stroke="#333" stroke-width="1.0"/>
<text x="172.99" y="351.30" font-size="8.8" text-anchor="middle" fill="#3a3a3a" stroke="#3a3a3a" font-weight="normal" transform="rotate(-29 172.99 351.30)" dominant-baseline="central" stroke-width="0.15">0.45&#8211;0.5</text>
<path d="M55.40,246.20 C55.72,245.17 56.53,241.95 57.30,240.00 C58.07,238.05 59.03,236.15 60.00,234.50 C60.97,232.85 61.85,231.80 63.10,230.10 C64.35,228.40 66.17,225.52 67.50,224.30 C68.83,223.08 69.90,222.80 71.10,222.80 C72.30,222.80 73.38,223.20 74.70,224.30 C76.02,225.40 77.32,227.23 79.00,229.40 C80.68,231.57 82.13,233.20 84.80,237.30 C87.47,241.40 90.80,247.55 95.00,254.00 C99.20,260.45 104.13,269.07 110.00,276.00 C115.87,282.93 125.03,291.35 130.20,295.60 C135.37,299.85 137.13,298.92 141.00,301.50 C144.87,304.08 149.27,308.65 153.40,311.10 C157.53,313.55 162.43,315.47 165.80,316.20 C169.17,316.93 170.55,316.62 173.60,315.50 C176.65,314.38 182.35,310.50 184.10,309.50" fill="none" stroke="#D986C2" stroke-width="1.2"/>
<path d="M55.40,269.30 C55.92,266.75 57.45,258.88 58.50,254.00 C59.55,249.12 60.70,243.67 61.70,240.00 C62.70,236.33 63.53,234.50 64.50,232.00 C65.47,229.50 66.58,227.08 67.50,225.00 C68.42,222.92 69.17,220.77 70.00,219.50 C70.83,218.23 71.67,217.55 72.50,217.40 C73.33,217.25 74.27,218.05 75.00,218.60 C75.73,219.15 76.15,219.80 76.90,220.70 C77.65,221.60 78.67,222.80 79.50,224.00 C80.33,225.20 80.98,226.40 81.90,227.90 C82.82,229.40 84.03,231.43 85.00,233.00 C85.97,234.57 86.70,235.72 87.70,237.30 C88.70,238.88 89.52,240.17 91.00,242.50 C92.48,244.83 94.70,248.67 96.60,251.30 C98.50,253.93 100.50,255.43 102.40,258.30 C104.30,261.17 106.07,264.88 108.00,268.50 C109.93,272.12 110.30,275.48 114.00,280.00 C117.70,284.52 125.70,291.97 130.20,295.60 C134.70,299.23 137.13,299.65 141.00,301.80 C144.87,303.95 149.27,306.43 153.40,308.50 C157.53,310.57 162.43,313.12 165.80,314.20 C169.17,315.28 170.55,315.08 173.60,315.00 C176.65,314.92 182.35,313.92 184.10,313.70" fill="none" stroke="#7259AE" stroke-width="1.2"/>
<path d="M55.40,255.20 C56.02,252.67 58.00,243.70 59.10,240.00 C60.20,236.30 60.97,235.02 62.00,233.00 C63.03,230.98 64.38,229.48 65.30,227.90 C66.22,226.32 66.78,224.70 67.50,223.50 C68.22,222.30 68.88,221.42 69.60,220.70 C70.32,219.98 71.15,219.38 71.80,219.20 C72.45,219.02 72.90,219.23 73.50,219.60 C74.10,219.97 74.65,220.50 75.40,221.40 C76.15,222.30 77.03,223.55 78.00,225.00 C78.97,226.45 79.82,227.80 81.20,230.10 C82.58,232.40 83.73,234.30 86.30,238.80 C88.87,243.30 93.65,251.98 96.60,257.10 C99.55,262.22 101.28,265.68 104.00,269.50 C106.72,273.32 108.53,275.65 112.90,280.00 C117.27,284.35 125.52,292.23 130.20,295.60 C134.88,298.97 137.13,298.13 141.00,300.20 C144.87,302.27 149.27,305.67 153.40,308.00 C157.53,310.33 162.43,313.03 165.80,314.20 C169.17,315.37 170.55,314.82 173.60,315.00 C176.65,315.18 182.35,315.25 184.10,315.30" fill="none" stroke="#F79A35" stroke-width="1.2"/>
<path d="M55.40,229.70 C56.20,229.10 58.55,226.93 60.20,226.10 C61.85,225.27 63.48,224.77 65.30,224.70 C67.12,224.63 69.17,224.80 71.10,225.70 C73.03,226.60 74.85,228.28 76.90,230.10 C78.95,231.92 81.83,234.87 83.40,236.60 C84.97,238.33 84.10,236.88 86.30,240.50 C88.50,244.12 92.55,251.72 96.60,258.30 C100.65,264.88 105.00,273.53 110.60,280.00 C116.20,286.47 125.13,293.22 130.20,297.10 C135.27,300.98 137.13,301.35 141.00,303.30 C144.87,305.25 149.27,306.98 153.40,308.80 C157.53,310.62 162.43,313.17 165.80,314.20 C169.17,315.23 170.55,314.67 173.60,315.00 C176.65,315.33 182.35,316.00 184.10,316.20" fill="none" stroke="#A23A40" stroke-width="1.2"/>
<line x1="146.20" y1="207.40" x2="157.10" y2="207.40" stroke="#D986C2" stroke-width="1.2"/>
<text x="163.30" y="210.50" font-size="8.8" text-anchor="start" fill="#222" stroke="#222" font-weight="normal" stroke-width="0.06">F0</text>
<line x1="146.20" y1="220.80" x2="157.10" y2="220.80" stroke="#7259AE" stroke-width="1.2"/>
<text x="163.30" y="223.90" font-size="8.8" text-anchor="start" fill="#222" stroke="#222" font-weight="normal" stroke-width="0.06">F2</text>
<line x1="146.20" y1="234.20" x2="157.10" y2="234.20" stroke="#F79A35" stroke-width="1.2"/>
<text x="163.30" y="237.30" font-size="8.8" text-anchor="start" fill="#222" stroke="#222" font-weight="normal" stroke-width="0.06">F9</text>
<line x1="146.20" y1="247.60" x2="157.10" y2="247.60" stroke="#A23A40" stroke-width="1.2"/>
<text x="163.30" y="250.70" font-size="8.8" text-anchor="start" fill="#222" stroke="#222" font-weight="normal" stroke-width="0.06">F16</text>
<text x="207.50" y="206.60" font-size="11" text-anchor="start" fill="#111" stroke="#111" font-weight="bold" stroke-width="0.06">e</text>
<line x1="237.50" y1="213.30" x2="237.50" y2="344.20" stroke="#222" stroke-width="0.9"/>
<line x1="234.30" y1="344.20" x2="237.50" y2="344.20" stroke="#222" stroke-width="0.9"/>
<text x="230.80" y="342.90" font-size="9.2" text-anchor="middle" fill="#222" stroke="#222" font-weight="normal" transform="rotate(-90 230.80 342.90)" stroke-width="0.06">0.0</text>
<line x1="234.30" y1="322.38" x2="237.50" y2="322.38" stroke="#222" stroke-width="0.9"/>
<text x="230.80" y="321.08" font-size="9.2" text-anchor="middle" fill="#222" stroke="#222" font-weight="normal" transform="rotate(-90 230.80 321.08)" stroke-width="0.06">0.1</text>
<line x1="234.30" y1="300.56" x2="237.50" y2="300.56" stroke="#222" stroke-width="0.9"/>
<text x="230.80" y="299.26" font-size="9.2" text-anchor="middle" fill="#222" stroke="#222" font-weight="normal" transform="rotate(-90 230.80 299.26)" stroke-width="0.06">0.2</text>
<line x1="234.30" y1="278.74" x2="237.50" y2="278.74" stroke="#222" stroke-width="0.9"/>
<text x="230.80" y="277.44" font-size="9.2" text-anchor="middle" fill="#222" stroke="#222" font-weight="normal" transform="rotate(-90 230.80 277.44)" stroke-width="0.06">0.3</text>
<line x1="234.30" y1="256.92" x2="237.50" y2="256.92" stroke="#222" stroke-width="0.9"/>
<text x="230.80" y="255.62" font-size="9.2" text-anchor="middle" fill="#222" stroke="#222" font-weight="normal" transform="rotate(-90 230.80 255.62)" stroke-width="0.06">0.4</text>
<line x1="234.30" y1="235.10" x2="237.50" y2="235.10" stroke="#222" stroke-width="0.9"/>
<text x="230.80" y="233.80" font-size="9.2" text-anchor="middle" fill="#222" stroke="#222" font-weight="normal" transform="rotate(-90 230.80 233.80)" stroke-width="0.06">0.5</text>
<line x1="234.30" y1="213.28" x2="237.50" y2="213.28" stroke="#222" stroke-width="0.9"/>
<text x="230.80" y="211.98" font-size="9.2" text-anchor="middle" fill="#222" stroke="#222" font-weight="normal" transform="rotate(-90 230.80 211.98)" stroke-width="0.06">0.6</text>
<line x1="243.30" y1="349.90" x2="397.30" y2="349.90" stroke="#222" stroke-width="0.9"/>
<line x1="243.30" y1="349.90" x2="243.30" y2="353.10" stroke="#222" stroke-width="0.9"/>
<text x="239.80" y="363.40" font-size="8.6" text-anchor="middle" fill="#222" stroke="#222" font-weight="normal" stroke-width="0.06">0</text>
<line x1="281.80" y1="349.90" x2="281.80" y2="353.10" stroke="#222" stroke-width="0.9"/>
<text x="280.10" y="363.40" font-size="8.6" text-anchor="middle" fill="#222" stroke="#222" font-weight="normal" stroke-width="0.06">500</text>
<line x1="320.30" y1="349.90" x2="320.30" y2="353.10" stroke="#222" stroke-width="0.9"/>
<text x="319.60" y="363.40" font-size="8.6" text-anchor="middle" fill="#222" stroke="#222" font-weight="normal" stroke-width="0.06">1000</text>
<line x1="358.80" y1="349.90" x2="358.80" y2="353.10" stroke="#222" stroke-width="0.9"/>
<text x="358.30" y="363.40" font-size="8.6" text-anchor="middle" fill="#222" stroke="#222" font-weight="normal" stroke-width="0.06">1500</text>
<line x1="397.30" y1="349.90" x2="397.30" y2="353.10" stroke="#222" stroke-width="0.9"/>
<text x="396.70" y="363.40" font-size="8.6" text-anchor="middle" fill="#222" stroke="#222" font-weight="normal" stroke-width="0.06">2000</text>
<text x="319.50" y="383.30" font-size="10.1" text-anchor="middle" fill="#111" stroke="#111" font-weight="normal" stroke-width="0.06">Distance (Kb)</text>
<text x="216.80" y="267.60" font-size="11" text-anchor="middle" fill="#111" stroke="#111" font-weight="normal" transform="rotate(-90 216.80 267.60)" stroke-width="0.06">r<tspan font-size="7.2" dx="0.6" dy="-3.9">2</tspan></text>
<path d="M243.90,206.60 C243.92,215.83 243.92,251.77 244.00,262.00 C244.08,272.23 244.17,266.18 244.40,268.00 C244.63,269.82 244.92,271.57 245.40,272.90 C245.88,274.23 246.47,275.10 247.30,276.00 C248.13,276.90 248.72,277.40 250.40,278.30 C252.08,279.20 254.47,280.12 257.40,281.40 C260.33,282.68 264.23,284.65 268.00,286.00 C271.77,287.35 274.67,288.00 280.00,289.50 C285.33,291.00 293.33,293.33 300.00,295.00 C306.67,296.67 312.50,298.17 320.00,299.50 C327.50,300.83 336.67,302.00 345.00,303.00 C353.33,304.00 361.28,304.80 370.00,305.50 C378.72,306.20 392.75,306.92 397.30,307.20" fill="none" stroke="#EE3535" stroke-width="1.3"/>
<path d="M243.60,230.70 C243.65,238.92 243.77,270.12 243.90,280.00 C244.03,289.88 244.22,287.58 244.40,290.00 C244.58,292.42 244.72,293.15 245.00,294.50 C245.28,295.85 245.33,296.72 246.10,298.10 C246.87,299.48 248.05,301.43 249.60,302.80 C251.15,304.17 252.33,305.18 255.40,306.30 C258.47,307.42 263.90,308.68 268.00,309.50 C272.10,310.32 274.67,310.62 280.00,311.20 C285.33,311.78 291.67,312.45 300.00,313.00 C308.33,313.55 320.00,314.08 330.00,314.50 C340.00,314.92 348.78,315.20 360.00,315.50 C371.22,315.80 391.08,316.17 397.30,316.30" fill="none" stroke="#3060B8" stroke-width="1.3"/>
<path d="M243.50,252.00 C243.55,260.00 243.65,290.57 243.80,300.00 C243.95,309.43 244.02,306.48 244.40,308.60 C244.78,310.72 245.23,311.73 246.10,312.70 C246.97,313.67 247.85,313.82 249.60,314.40 C251.35,314.98 253.53,315.65 256.60,316.20 C259.67,316.75 263.27,317.17 268.00,317.70 C272.73,318.23 276.33,318.85 285.00,319.40 C293.67,319.95 307.50,320.57 320.00,321.00 C332.50,321.43 347.12,321.73 360.00,322.00 C372.88,322.27 391.08,322.50 397.30,322.60" fill="none" stroke="#5EAAA2" stroke-width="1.3"/>
<path d="M243.50,258.00 C243.53,266.33 243.57,298.50 243.70,308.00 C243.83,317.50 244.08,313.35 244.30,315.00 C244.52,316.65 244.50,317.03 245.00,317.90 C245.50,318.77 246.13,319.52 247.30,320.20 C248.47,320.88 248.55,321.27 252.00,322.00 C255.45,322.73 262.50,324.02 268.00,324.60 C273.50,325.18 276.33,325.10 285.00,325.50 C293.67,325.90 307.50,326.58 320.00,327.00 C332.50,327.42 347.12,327.73 360.00,328.00 C372.88,328.27 391.08,328.50 397.30,328.60" fill="none" stroke="#7E5CB2" stroke-width="1.3"/>
<path d="M243.50,258.00 C243.53,266.50 243.57,299.42 243.70,309.00 C243.83,318.58 244.08,313.95 244.30,315.50 C244.52,317.05 244.50,317.43 245.00,318.30 C245.50,319.17 246.13,319.98 247.30,320.70 C248.47,321.42 248.55,321.83 252.00,322.60 C255.45,323.37 262.50,324.57 268.00,325.30 C273.50,326.03 276.33,326.30 285.00,327.00 C293.67,327.70 307.50,328.83 320.00,329.50 C332.50,330.17 347.12,330.65 360.00,331.00 C372.88,331.35 391.08,331.50 397.30,331.60" fill="none" stroke="#72C052" stroke-width="1.3"/>
<path d="M243.50,258.00 C243.53,266.58 243.57,299.83 243.70,309.50 C243.83,319.17 244.08,314.48 244.30,316.00 C244.52,317.52 244.50,317.77 245.00,318.60 C245.50,319.43 246.13,320.27 247.30,321.00 C248.47,321.73 248.55,322.20 252.00,323.00 C255.45,323.80 262.50,325.00 268.00,325.80 C273.50,326.60 276.33,327.02 285.00,327.80 C293.67,328.58 307.50,329.77 320.00,330.50 C332.50,331.23 347.12,331.78 360.00,332.20 C372.88,332.62 391.08,332.87 397.30,333.00" fill="none" stroke="#F5A04A" stroke-width="1.3"/>
<path d="M243.50,258.00 C243.53,266.67 243.57,300.30 243.70,310.00 C243.83,319.70 244.08,314.73 244.30,316.20 C244.52,317.67 244.50,317.97 245.00,318.80 C245.50,319.63 246.13,320.45 247.30,321.20 C248.47,321.95 248.55,322.47 252.00,323.30 C255.45,324.13 262.50,325.37 268.00,326.20 C273.50,327.03 276.33,327.47 285.00,328.30 C293.67,329.13 307.50,330.42 320.00,331.20 C332.50,331.98 347.12,332.53 360.00,333.00 C372.88,333.47 391.08,333.83 397.30,334.00" fill="none" stroke="#EDE040" stroke-width="1.3"/>
<path d="M243.50,258.00 C243.53,266.75 243.57,300.75 243.70,310.50 C243.83,320.25 244.08,315.07 244.30,316.50 C244.52,317.93 244.50,318.27 245.00,319.10 C245.50,319.93 246.13,320.75 247.30,321.50 C248.47,322.25 248.55,322.75 252.00,323.60 C255.45,324.45 262.50,325.73 268.00,326.60 C273.50,327.47 276.33,327.95 285.00,328.80 C293.67,329.65 307.50,330.90 320.00,331.70 C332.50,332.50 347.12,333.07 360.00,333.60 C372.88,334.13 391.08,334.68 397.30,334.90" fill="none" stroke="#A03040" stroke-width="1.3"/>
<line x1="343.90" y1="212.70" x2="358.10" y2="212.70" stroke="#EE3535" stroke-width="1.3"/>
<text x="364.60" y="215.50" font-size="8.0" text-anchor="start" fill="#222" stroke="#222" font-weight="normal" stroke-width="0.06">HB</text>
<line x1="343.90" y1="221.53" x2="358.10" y2="221.53" stroke="#3060B8" stroke-width="1.3"/>
<text x="364.60" y="224.33" font-size="8.0" text-anchor="start" fill="#222" stroke="#222" font-weight="normal" stroke-width="0.06">HQLA</text>
<line x1="343.90" y1="230.36" x2="358.10" y2="230.36" stroke="#5EAAA2" stroke-width="1.3"/>
<text x="364.60" y="233.16" font-size="8.0" text-anchor="start" fill="#222" stroke="#222" font-weight="normal" stroke-width="0.06">F1</text>
<line x1="343.90" y1="239.19" x2="358.10" y2="239.19" stroke="#7E5CB2" stroke-width="1.3"/>
<text x="364.60" y="241.99" font-size="8.0" text-anchor="start" fill="#222" stroke="#222" font-weight="normal" stroke-width="0.06">F2</text>
<line x1="343.90" y1="248.02" x2="358.10" y2="248.02" stroke="#72C052" stroke-width="1.3"/>
<text x="364.60" y="250.82" font-size="8.0" text-anchor="start" fill="#222" stroke="#222" font-weight="normal" stroke-width="0.06">F8</text>
<line x1="343.90" y1="256.85" x2="358.10" y2="256.85" stroke="#F5A04A" stroke-width="1.3"/>
<text x="364.60" y="259.65" font-size="8.0" text-anchor="start" fill="#222" stroke="#222" font-weight="normal" stroke-width="0.06">F9</text>
<line x1="343.90" y1="265.68" x2="358.10" y2="265.68" stroke="#EDE040" stroke-width="1.3"/>
<text x="364.60" y="268.48" font-size="8.0" text-anchor="start" fill="#222" stroke="#222" font-weight="normal" stroke-width="0.06">F15</text>
<line x1="343.90" y1="274.51" x2="358.10" y2="274.51" stroke="#A03040" stroke-width="1.3"/>
<text x="364.60" y="277.31" font-size="8.0" text-anchor="start" fill="#222" stroke="#222" font-weight="normal" stroke-width="0.06">F16</text>
<text x="416.00" y="206.60" font-size="11" text-anchor="start" fill="#111" stroke="#111" font-weight="bold" stroke-width="0.06">f</text>
<line x1="448.20" y1="209.30" x2="448.20" y2="349.70" stroke="#666" stroke-width="1.2"/>
<line x1="447.60" y1="349.20" x2="548.90" y2="349.20" stroke="#444" stroke-width="1.1"/>
<line x1="445.20" y1="347.30" x2="448.20" y2="347.30" stroke="#555" stroke-width="1.0"/>
<text x="443.20" y="351.70" font-size="9.6" text-anchor="end" fill="#3a3a3a" stroke="#3a3a3a" font-weight="normal" transform="translate(443.20 351.70) scale(1 1.12) translate(-443.20 -351.70)" stroke-width="0.15">0</text>
<line x1="445.20" y1="305.80" x2="448.20" y2="305.80" stroke="#555" stroke-width="1.0"/>
<text x="443.20" y="310.20" font-size="9.6" text-anchor="end" fill="#3a3a3a" stroke="#3a3a3a" font-weight="normal" transform="translate(443.20 310.20) scale(1 1.12) translate(-443.20 -310.20)" stroke-width="0.15">10</text>
<line x1="445.20" y1="264.30" x2="448.20" y2="264.30" stroke="#555" stroke-width="1.0"/>
<text x="443.20" y="268.70" font-size="9.6" text-anchor="end" fill="#3a3a3a" stroke="#3a3a3a" font-weight="normal" transform="translate(443.20 268.70) scale(1 1.12) translate(-443.20 -268.70)" stroke-width="0.15">20</text>
<line x1="445.20" y1="222.80" x2="448.20" y2="222.80" stroke="#555" stroke-width="1.0"/>
<text x="443.20" y="227.20" font-size="9.6" text-anchor="end" fill="#3a3a3a" stroke="#3a3a3a" font-weight="normal" transform="translate(443.20 227.20) scale(1 1.12) translate(-443.20 -227.20)" stroke-width="0.15">30</text>
<text x="424.00" y="277.10" font-size="10.1" text-anchor="middle" fill="#222" stroke="#222" font-weight="normal" transform="rotate(-90 424.00 277.10)" stroke-width="0.06">Number</text>
<text x="498.80" y="386.00" font-size="9.9" text-anchor="middle" fill="#222" stroke="#222" font-weight="normal" stroke-width="0.06">Generation</text>
<line x1="455.50" y1="322.20" x2="455.50" y2="334.60" stroke="#555" stroke-width="0.8"/>
<rect x="452.30" y="326.20" width="6.4" height="4.50" fill="#F8766D" stroke="#444" stroke-width="0.8"/>
<line x1="452.30" y1="328.40" x2="458.70" y2="328.40" stroke="#444" stroke-width="0.9"/>
<line x1="455.50" y1="349.20" x2="455.50" y2="352.20" stroke="#444" stroke-width="1.0"/>
<text x="452.95" y="362.85" font-size="8.3" text-anchor="middle" fill="#3a3a3a" stroke="#3a3a3a" font-weight="normal" transform="rotate(-60 452.95 362.85) translate(452.95 362.85) scale(1 1.12) translate(-452.95 -362.85)" dominant-baseline="central" stroke-width="0.15">HB</text>
<line x1="467.79" y1="306.00" x2="467.79" y2="338.70" stroke="#555" stroke-width="0.8"/>
<rect x="464.59" y="318.00" width="6.4" height="8.50" fill="#F8766D" stroke="#444" stroke-width="0.8"/>
<line x1="464.59" y1="321.90" x2="470.99" y2="321.90" stroke="#444" stroke-width="0.9"/>
<line x1="467.79" y1="349.20" x2="467.79" y2="352.20" stroke="#444" stroke-width="1.0"/>
<text x="462.09" y="368.00" font-size="8.3" text-anchor="middle" fill="#3a3a3a" stroke="#3a3a3a" font-weight="normal" transform="rotate(-60 462.09 368.00) translate(462.09 368.00) scale(1 1.12) translate(-462.09 -368.00)" dominant-baseline="central" stroke-width="0.15">HQLA</text>
<line x1="480.08" y1="285.70" x2="480.08" y2="330.40" stroke="#555" stroke-width="0.8"/>
<rect x="476.88" y="302.00" width="6.4" height="12.10" fill="#F8766D" stroke="#444" stroke-width="0.8"/>
<line x1="476.88" y1="310.20" x2="483.28" y2="310.20" stroke="#444" stroke-width="0.9"/>
<line x1="480.08" y1="349.20" x2="480.08" y2="352.20" stroke="#444" stroke-width="1.0"/>
<text x="479.73" y="362.30" font-size="8.3" text-anchor="middle" fill="#3a3a3a" stroke="#3a3a3a" font-weight="normal" transform="rotate(-60 479.73 362.30) translate(479.73 362.30) scale(1 1.12) translate(-479.73 -362.30)" dominant-baseline="central" stroke-width="0.15">F1</text>
<line x1="492.37" y1="264.90" x2="492.37" y2="330.70" stroke="#555" stroke-width="0.8"/>
<rect x="489.17" y="289.30" width="6.4" height="16.50" fill="#F8766D" stroke="#444" stroke-width="0.8"/>
<line x1="489.17" y1="297.30" x2="495.57" y2="297.30" stroke="#444" stroke-width="0.9"/>
<line x1="492.37" y1="349.20" x2="492.37" y2="352.20" stroke="#444" stroke-width="1.0"/>
<text x="490.57" y="361.80" font-size="8.3" text-anchor="middle" fill="#3a3a3a" stroke="#3a3a3a" font-weight="normal" transform="rotate(-60 490.57 361.80) translate(490.57 361.80) scale(1 1.12) translate(-490.57 -361.80)" dominant-baseline="central" stroke-width="0.15">F2</text>
<line x1="504.66" y1="260.70" x2="504.66" y2="334.80" stroke="#555" stroke-width="0.8"/>
<rect x="501.46" y="289.70" width="6.4" height="20.70" fill="#F8766D" stroke="#444" stroke-width="0.8"/>
<line x1="501.46" y1="297.30" x2="507.86" y2="297.30" stroke="#444" stroke-width="0.9"/>
<line x1="504.66" y1="349.20" x2="504.66" y2="352.20" stroke="#444" stroke-width="1.0"/>
<text x="502.11" y="362.00" font-size="8.3" text-anchor="middle" fill="#3a3a3a" stroke="#3a3a3a" font-weight="normal" transform="rotate(-60 502.11 362.00) translate(502.11 362.00) scale(1 1.12) translate(-502.11 -362.00)" dominant-baseline="central" stroke-width="0.15">F8</text>
<line x1="516.95" y1="256.70" x2="516.95" y2="330.70" stroke="#555" stroke-width="0.8"/>
<rect x="513.75" y="285.10" width="6.4" height="20.70" fill="#F8766D" stroke="#444" stroke-width="0.8"/>
<line x1="513.75" y1="297.30" x2="520.15" y2="297.30" stroke="#444" stroke-width="0.9"/>
<line x1="516.95" y1="349.20" x2="516.95" y2="352.20" stroke="#444" stroke-width="1.0"/>
<text x="514.10" y="362.00" font-size="8.3" text-anchor="middle" fill="#3a3a3a" stroke="#3a3a3a" font-weight="normal" transform="rotate(-60 514.10 362.00) translate(514.10 362.00) scale(1 1.12) translate(-514.10 -362.00)" dominant-baseline="central" stroke-width="0.15">F9</text>
<line x1="529.24" y1="260.70" x2="529.24" y2="338.90" stroke="#555" stroke-width="0.8"/>
<rect x="526.04" y="289.70" width="6.4" height="20.70" fill="#F8766D" stroke="#444" stroke-width="0.8"/>
<line x1="526.04" y1="301.70" x2="532.44" y2="301.70" stroke="#444" stroke-width="0.9"/>
<line x1="529.24" y1="349.20" x2="529.24" y2="352.20" stroke="#444" stroke-width="1.0"/>
<text x="526.09" y="365.40" font-size="8.3" text-anchor="middle" fill="#3a3a3a" stroke="#3a3a3a" font-weight="normal" transform="rotate(-60 526.09 365.40) translate(526.09 365.40) scale(1 1.12) translate(-526.09 -365.40)" dominant-baseline="central" stroke-width="0.15">F15</text>
<line x1="541.53" y1="240.10" x2="541.53" y2="330.70" stroke="#555" stroke-width="0.8"/>
<rect x="538.33" y="277.20" width="6.4" height="24.50" fill="#F8766D" stroke="#444" stroke-width="0.8"/>
<line x1="538.33" y1="289.30" x2="544.73" y2="289.30" stroke="#444" stroke-width="0.9"/>
<line x1="541.53" y1="349.20" x2="541.53" y2="352.20" stroke="#444" stroke-width="1.0"/>
<text x="538.13" y="365.60" font-size="8.3" text-anchor="middle" fill="#3a3a3a" stroke="#3a3a3a" font-weight="normal" transform="rotate(-60 538.13 365.60) translate(538.13 365.60) scale(1 1.12) translate(-538.13 -365.60)" dominant-baseline="central" stroke-width="0.15">F16</text>
<text x="551.50" y="206.60" font-size="11.5" text-anchor="start" fill="#111" stroke="#111" font-weight="bold" stroke-width="0.06">g</text>
<line x1="598.30" y1="212.40" x2="598.30" y2="347.60" stroke="#555" stroke-width="1.1"/>
<line x1="597.80" y1="347.10" x2="685.00" y2="347.10" stroke="#444" stroke-width="1.1"/>
<line x1="595.30" y1="218.40" x2="598.30" y2="218.40" stroke="#555" stroke-width="1.0"/>
<text x="592.30" y="223.30" font-size="9.8" text-anchor="end" fill="#3a3a3a" stroke="#3a3a3a" font-weight="normal" transform="translate(592.30 223.30) scale(1 1.12) translate(-592.30 -223.30)" stroke-width="0.15">1.00</text>
<line x1="595.30" y1="255.62" x2="598.30" y2="255.62" stroke="#555" stroke-width="1.0"/>
<text x="592.30" y="260.52" font-size="9.8" text-anchor="end" fill="#3a3a3a" stroke="#3a3a3a" font-weight="normal" transform="translate(592.30 260.52) scale(1 1.12) translate(-592.30 -260.52)" stroke-width="0.15">0.75</text>
<line x1="595.30" y1="292.85" x2="598.30" y2="292.85" stroke="#555" stroke-width="1.0"/>
<text x="592.30" y="297.75" font-size="9.8" text-anchor="end" fill="#3a3a3a" stroke="#3a3a3a" font-weight="normal" transform="translate(592.30 297.75) scale(1 1.12) translate(-592.30 -297.75)" stroke-width="0.15">0.50</text>
<line x1="595.30" y1="330.08" x2="598.30" y2="330.08" stroke="#555" stroke-width="1.0"/>
<text x="592.30" y="334.98" font-size="9.8" text-anchor="end" fill="#3a3a3a" stroke="#3a3a3a" font-weight="normal" transform="translate(592.30 334.98) scale(1 1.12) translate(-592.30 -334.98)" stroke-width="0.15">0.25</text>
<text x="567.50" y="279.20" font-size="10.2" text-anchor="middle" fill="#222" stroke="#222" font-weight="normal" transform="rotate(-90 567.50 279.20)" stroke-width="0.06">Frequency</text>
<text x="647.30" y="386.50" font-size="9.8" text-anchor="middle" fill="#222" stroke="#222" font-weight="normal" stroke-width="0.06">Generation</text>
<line x1="604.30" y1="218.50" x2="604.30" y2="263.10" stroke="#555" stroke-width="0.8"/>
<rect x="601.60" y="218.50" width="5.4" height="18.60" fill="#546F98" stroke="#333" stroke-width="0.8"/>
<line x1="601.60" y1="218.50" x2="607.00" y2="218.50" stroke="#222" stroke-width="0.9"/>
<line x1="604.30" y1="347.10" x2="604.30" y2="350.10" stroke="#444" stroke-width="1.0"/>
<text x="601.60" y="359.00" font-size="8.3" text-anchor="middle" fill="#3a3a3a" stroke="#3a3a3a" font-weight="normal" transform="rotate(-60 601.60 359.00) translate(601.60 359.00) scale(1 1.12) translate(-601.60 -359.00)" dominant-baseline="central" stroke-width="0.15">HB</text>
<line x1="614.87" y1="218.50" x2="614.87" y2="325.30" stroke="#555" stroke-width="0.8"/>
<rect x="612.17" y="236.20" width="5.4" height="40.10" fill="#546F98" stroke="#333" stroke-width="0.8"/>
<line x1="612.17" y1="253.10" x2="617.57" y2="253.10" stroke="#222" stroke-width="0.9"/>
<line x1="614.87" y1="347.10" x2="614.87" y2="350.10" stroke="#444" stroke-width="1.0"/>
<text x="608.77" y="362.90" font-size="8.3" text-anchor="middle" fill="#3a3a3a" stroke="#3a3a3a" font-weight="normal" transform="rotate(-60 608.77 362.90) translate(608.77 362.90) scale(1 1.12) translate(-608.77 -362.90)" dominant-baseline="central" stroke-width="0.15">HQLA</text>
<line x1="625.44" y1="218.50" x2="625.44" y2="333.00" stroke="#555" stroke-width="0.8"/>
<rect x="622.74" y="259.20" width="5.4" height="42.20" fill="#546F98" stroke="#333" stroke-width="0.8"/>
<line x1="622.74" y1="285.80" x2="628.14" y2="285.80" stroke="#222" stroke-width="0.9"/>
<line x1="625.44" y1="347.10" x2="625.44" y2="350.10" stroke="#444" stroke-width="1.0"/>
<text x="625.34" y="360.10" font-size="8.3" text-anchor="middle" fill="#3a3a3a" stroke="#3a3a3a" font-weight="normal" transform="rotate(-60 625.34 360.10) translate(625.34 360.10) scale(1 1.12) translate(-625.34 -360.10)" dominant-baseline="central" stroke-width="0.15">F1</text>
<line x1="636.01" y1="218.50" x2="636.01" y2="341.60" stroke="#555" stroke-width="0.8"/>
<rect x="633.31" y="263.00" width="5.4" height="38.60" fill="#546F98" stroke="#333" stroke-width="0.8"/>
<line x1="633.31" y1="285.80" x2="638.71" y2="285.80" stroke="#222" stroke-width="0.9"/>
<line x1="636.01" y1="347.10" x2="636.01" y2="350.10" stroke="#444" stroke-width="1.0"/>
<text x="635.31" y="359.70" font-size="8.3" text-anchor="middle" fill="#3a3a3a" stroke="#3a3a3a" font-weight="normal" transform="rotate(-60 635.31 359.70) translate(635.31 359.70) scale(1 1.12) translate(-635.31 -359.70)" dominant-baseline="central" stroke-width="0.15">F2</text>
<line x1="646.58" y1="218.50" x2="646.58" y2="338.60" stroke="#555" stroke-width="0.8"/>
<rect x="643.88" y="258.40" width="5.4" height="44.20" fill="#546F98" stroke="#333" stroke-width="0.8"/>
<line x1="643.88" y1="285.10" x2="649.28" y2="285.10" stroke="#222" stroke-width="0.9"/>
<line x1="646.58" y1="347.10" x2="646.58" y2="350.10" stroke="#444" stroke-width="1.0"/>
<text x="646.53" y="359.70" font-size="8.3" text-anchor="middle" fill="#3a3a3a" stroke="#3a3a3a" font-weight="normal" transform="rotate(-60 646.53 359.70) translate(646.53 359.70) scale(1 1.12) translate(-646.53 -359.70)" dominant-baseline="central" stroke-width="0.15">F8</text>
<line x1="657.15" y1="218.50" x2="657.15" y2="337.70" stroke="#555" stroke-width="0.8"/>
<rect x="654.45" y="257.40" width="5.4" height="44.00" fill="#546F98" stroke="#333" stroke-width="0.8"/>
<line x1="654.45" y1="284.20" x2="659.85" y2="284.20" stroke="#222" stroke-width="0.9"/>
<line x1="657.15" y1="347.10" x2="657.15" y2="350.10" stroke="#444" stroke-width="1.0"/>
<text x="657.15" y="359.70" font-size="8.3" text-anchor="middle" fill="#3a3a3a" stroke="#3a3a3a" font-weight="normal" transform="rotate(-60 657.15 359.70) translate(657.15 359.70) scale(1 1.12) translate(-657.15 -359.70)" dominant-baseline="central" stroke-width="0.15">F9</text>
<line x1="667.72" y1="218.50" x2="667.72" y2="338.60" stroke="#555" stroke-width="0.8"/>
<rect x="665.02" y="253.80" width="5.4" height="47.60" fill="#546F98" stroke="#333" stroke-width="0.8"/>
<line x1="665.02" y1="282.80" x2="670.42" y2="282.80" stroke="#222" stroke-width="0.9"/>
<line x1="667.72" y1="347.10" x2="667.72" y2="350.10" stroke="#444" stroke-width="1.0"/>
<text x="665.92" y="362.40" font-size="8.3" text-anchor="middle" fill="#3a3a3a" stroke="#3a3a3a" font-weight="normal" transform="rotate(-60 665.92 362.40) translate(665.92 362.40) scale(1 1.12) translate(-665.92 -362.40)" dominant-baseline="central" stroke-width="0.15">F15</text>
<line x1="678.29" y1="218.50" x2="678.29" y2="340.50" stroke="#555" stroke-width="0.8"/>
<rect x="675.59" y="253.10" width="5.4" height="48.30" fill="#546F98" stroke="#333" stroke-width="0.8"/>
<line x1="675.59" y1="282.80" x2="680.99" y2="282.80" stroke="#222" stroke-width="0.9"/>
<line x1="678.29" y1="347.10" x2="678.29" y2="350.10" stroke="#444" stroke-width="1.0"/>
<text x="676.74" y="362.40" font-size="8.3" text-anchor="middle" fill="#3a3a3a" stroke="#3a3a3a" font-weight="normal" transform="rotate(-60 676.74 362.40) translate(676.74 362.40) scale(1 1.12) translate(-676.74 -362.40)" dominant-baseline="central" stroke-width="0.15">F16</text>
</svg>
</body></html>
